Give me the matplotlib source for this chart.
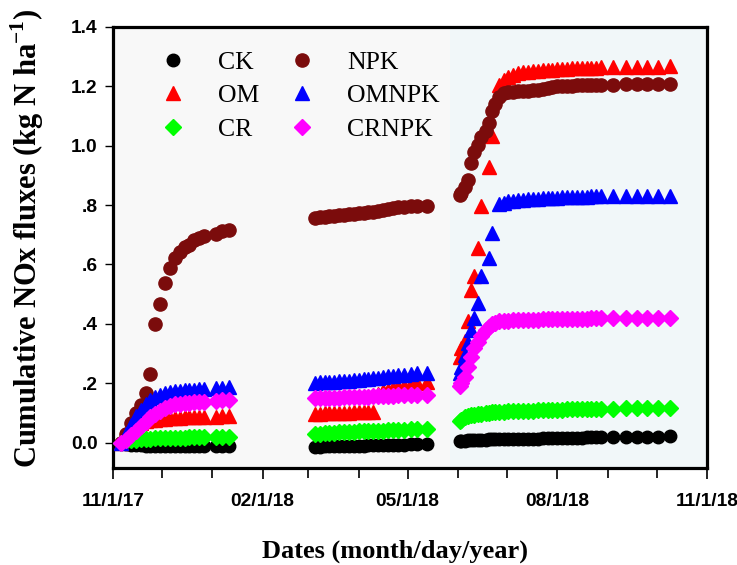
# -*- coding: utf-8 -*-
"""
Cumulative NOx fluxes for six treatments, three sampling periods (Nov 2017 - Oct 2018).
"""
import numpy as np
import pandas as pd
import matplotlib
matplotlib.use("Agg")
import matplotlib.pyplot as plt
import matplotlib.dates as mdates

plt.rcParams["font.family"] = ["Liberation Serif", "DejaVu Serif"]
plt.rcParams["mathtext.fontset"] = "custom"
plt.rcParams["mathtext.rm"] = "Liberation Serif:bold"
plt.rcParams["mathtext.bf"] = "Liberation Serif:bold"

nan = np.nan

# ===== data =====
dates_p1 = ["2017-11-06", "2017-11-09", "2017-11-12", "2017-11-15", "2017-11-18", "2017-11-21",
            "2017-11-24", "2017-11-27", "2017-11-30", "2017-12-03", "2017-12-06", "2017-12-09",
            "2017-12-12", "2017-12-15", "2017-12-18", "2017-12-21", "2017-12-24", "2017-12-27",
            "2018-01-03", "2018-01-07", "2018-01-11"]
dates_p2 = ["2018-03-05", "2018-03-08", "2018-03-11", "2018-03-14", "2018-03-17", "2018-03-20",
            "2018-03-23", "2018-03-26", "2018-03-29", "2018-04-01", "2018-04-04", "2018-04-07",
            "2018-04-10", "2018-04-13", "2018-04-16", "2018-04-19", "2018-04-22", "2018-04-25",
            "2018-04-29", "2018-05-03", "2018-05-07", "2018-05-13"]
dates_p3 = ["2018-06-02", "2018-06-03", "2018-06-05", "2018-06-07", "2018-06-09", "2018-06-11",
            "2018-06-13", "2018-06-15", "2018-06-18", "2018-06-20", "2018-06-22", "2018-06-24",
            "2018-06-26", "2018-06-29", "2018-07-02", "2018-07-05", "2018-07-08", "2018-07-11",
            "2018-07-14", "2018-07-17", "2018-07-20", "2018-07-23", "2018-07-26", "2018-07-29",
            "2018-08-01", "2018-08-04", "2018-08-07", "2018-08-10", "2018-08-13", "2018-08-16",
            "2018-08-19", "2018-08-22", "2018-08-25", "2018-08-28", "2018-09-04", "2018-09-12",
            "2018-09-19", "2018-09-25", "2018-10-02", "2018-10-09"]

ck_p1 = [0.0, -0.003, -0.006, -0.008, -0.009, -0.010, -0.010, -0.011, -0.011, -0.011, -0.012,
         -0.012, -0.012, -0.012, -0.012, -0.012, -0.012, -0.012, -0.011, -0.011, -0.011]
om_p1 = [0.0, 0.030, 0.050, 0.060, 0.068, 0.073, 0.076, 0.078, 0.080, 0.081, 0.082,
         0.083, 0.084, 0.085, 0.085, 0.086, 0.086, 0.087, 0.088, 0.089, 0.090]
cr_p1 = [0.0, 0.005, 0.008, 0.010, 0.012, 0.013, 0.014, 0.015, 0.015, 0.016, 0.016,
         0.017, 0.017, 0.017, 0.018, 0.018, 0.018, 0.019, 0.019, 0.020, 0.020]
npk_p1 = [0.0, 0.030, 0.065, 0.100, 0.128, 0.167, 0.232, 0.400, 0.467, 0.536, 0.589,
          0.622, 0.641, 0.659, 0.667, 0.683, 0.689, 0.695, 0.702, 0.711, 0.717]
omnpk_p1 = [0.0, 0.030, 0.060, 0.090, 0.110, 0.130, 0.145, 0.155, 0.162, 0.167, 0.170,
            0.173, 0.175, 0.177, 0.178, 0.179, 0.180, 0.181, 0.183, 0.185, 0.186]
crnpk_p1 = [0.0, 0.010, 0.025, 0.040, 0.055, 0.070, 0.085, 0.097, 0.108, 0.117, 0.124,
            0.129, 0.132, 0.134, 0.135, 0.136, 0.137, 0.138, 0.141, 0.143, 0.145]

ck_p2 = [-0.013, -0.013, -0.012, -0.012, -0.012, -0.011, -0.011, -0.011, -0.010, -0.010, -0.010,
         -0.009, -0.009, -0.008, -0.008, -0.008, -0.007, -0.007, -0.006, -0.005, -0.004, -0.003]
om_p2 = [0.097, 0.098, 0.099, 0.099, 0.100, 0.100, 0.101, 0.101, 0.102, 0.102, 0.103,
         0.103, 0.104, 0.165, 0.173, 0.178, 0.183, 0.188, 0.192, 0.196, 0.200, 0.206]
cr_p2 = [0.030, 0.031, 0.032, 0.033, 0.034, 0.035, 0.035, 0.036, 0.037, 0.038, 0.038,
         0.039, 0.040, 0.040, 0.041, 0.042, 0.043, 0.043, 0.044, 0.045, 0.046, 0.047]
npk_p2 = [0.756, 0.758, 0.760, 0.762, 0.764, 0.766, 0.768, 0.769, 0.771, 0.772, 0.774,
          0.776, 0.778, 0.780, 0.783, 0.786, 0.789, 0.792, 0.794, 0.795, 0.796, 0.798]
omnpk_p2 = [0.202, 0.203, 0.204, 0.205, 0.206, 0.207, 0.208, 0.209, 0.210, 0.211, 0.213,
            0.215, 0.217, 0.219, 0.221, 0.223, 0.225, 0.227, 0.229, 0.231, 0.233, 0.236]
crnpk_p2 = [0.150, 0.150, 0.151, 0.151, 0.152, 0.152, 0.153, 0.153, 0.154, 0.154, 0.155,
            0.155, 0.156, 0.156, 0.157, 0.157, 0.158, 0.159, 0.159, 0.160, 0.161, 0.162]

ck_p3 = [0.005, 0.006, 0.007, 0.008, 0.008, 0.009, 0.009, 0.010, 0.010, 0.011, 0.011, 0.011,
         0.012, 0.012, 0.012, 0.013, 0.013, 0.013, 0.014, 0.014, 0.014, 0.015, 0.015, 0.015,
         0.016, 0.016, 0.016, 0.017, 0.017, 0.017, 0.018, 0.018, 0.018, 0.019, 0.019, 0.019,
         0.020, 0.020, 0.020, 0.021]
om_p3 = [0.290, 0.320, 0.341, 0.410, 0.515, 0.560, 0.655, 0.797, nan, 0.928, 1.031, nan,
         1.205, 1.221, 1.232, 1.238, 1.244, 1.246, 1.248, 1.250, 1.252, 1.254, 1.255, 1.256,
         1.257, 1.258, 1.259, 1.260, 1.260, 1.261, 1.261, 1.262, 1.262, 1.263, 1.263, 1.264,
         1.265, 1.265, 1.266, 1.267]
cr_p3 = [0.072, 0.078, 0.085, 0.089, 0.092, 0.094, 0.096, 0.098, 0.100, 0.101, 0.102, 0.103,
         0.104, 0.105, 0.106, 0.106, 0.107, 0.107, 0.108, 0.108, 0.109, 0.109, 0.110, 0.110,
         0.111, 0.111, 0.112, 0.112, 0.113, 0.113, 0.114, 0.114, 0.114, 0.115, 0.115, 0.116,
         0.116, 0.117, 0.117, 0.118]
npk_p3 = [0.835, 0.840, 0.862, 0.885, 0.940, 0.980, 1.003, 1.029, 1.050, 1.076, 1.115, 1.140,
          1.162, 1.177, 1.180, 1.182, 1.183, 1.184, 1.185, 1.186, 1.187, 1.190, 1.193, 1.197,
          1.200, 1.201, 1.202, 1.202, 1.203, 1.203, 1.204, 1.204, 1.205, 1.205, 1.205, 1.206,
          1.206, 1.206, 1.207, 1.208]
omnpk_p3 = [0.235, 0.255, 0.295, 0.335, 0.380, 0.420, 0.470, 0.560, nan, 0.622, 0.706, nan,
            0.805, 0.808, 0.812, 0.815, 0.817, 0.818, 0.819, 0.820, 0.821, 0.822, 0.823, 0.824,
            0.825, 0.826, 0.826, 0.827, 0.827, 0.828, 0.828, 0.829, 0.829, 0.830, 0.830, 0.830,
            0.831, 0.831, 0.831, 0.832]
crnpk_p3 = [0.190, 0.200, 0.220, 0.255, 0.290, 0.320, 0.340, 0.360, 0.378, 0.388, 0.398, 0.404,
            0.408, 0.410, 0.411, 0.412, 0.412, 0.413, 0.413, 0.414, 0.414, 0.415, 0.415, 0.416,
            0.416, 0.417, 0.417, 0.417, 0.418, 0.418, 0.418, 0.419, 0.419, 0.419, 0.420, 0.420,
            0.420, 0.421, 0.421, 0.421]

treatments = ["CK", "OM", "CR", "NPK", "OMNPK", "CRNPK"]
series = {
    "CK": (ck_p1, ck_p2, ck_p3),
    "OM": (om_p1, om_p2, om_p3),
    "CR": (cr_p1, cr_p2, cr_p3),
    "NPK": (npk_p1, npk_p2, npk_p3),
    "OMNPK": (omnpk_p1, omnpk_p2, omnpk_p3),
    "CRNPK": (crnpk_p1, crnpk_p2, crnpk_p3),
}
yticks = [0.0, 0.2, 0.4, 0.6, 0.8, 1.0, 1.2, 1.4]
ytick_labels = ["0.0", ".2", ".4", ".6", ".8", "1.0", "1.2", "1.4"]
xticks = ["2017-11-01", "2018-02-01", "2018-05-01", "2018-08-01", "2018-11-01"]
xtick_labels = ["11/1/17", "02/1/18", "05/1/18", "08/1/18", "11/1/18"]

# ===== styles =====
styles = {
    "CK": dict(marker="o", color="black", ms=9, zorder=3),
    "OM": dict(marker="^", color="#ff0000", ms=10, zorder=3),
    "CR": dict(marker="D", color="#00ff00", ms=8, zorder=3),
    "NPK": dict(marker="o", color="#7b0c0c", ms=9.5, zorder=4),
    "OMNPK": dict(marker="^", color="#0000ff", ms=10, zorder=4),
    "CRNPK": dict(marker="D", color="#ff00ff", ms=8, zorder=5),
}

dates = [pd.to_datetime(d) for d in (dates_p1, dates_p2, dates_p3)]

fig = plt.figure(figsize=(7.37, 5.65), dpi=100)
ax = fig.add_axes([0.1533, 0.1717, 0.806, 0.781])
ax.set_facecolor("#f8f8f8")
ax.axvspan(pd.Timestamp("2018-05-27"), pd.Timestamp("2018-11-01"), color="#f1f7f9", zorder=0, lw=0)

for name in treatments:
    st = styles[name]
    for k in range(3):
        ax.plot(dates[k], series[name][k], ls="none", marker=st["marker"], ms=st["ms"],
                color=st["color"], mec=st["color"], zorder=st["zorder"],
                label=name if k == 0 else None)

ax.set_xlim(pd.Timestamp("2017-11-01"), pd.Timestamp("2018-11-01"))
ax.set_ylim(-0.085, 1.4)
ax.set_yticks(yticks)
ax.set_yticklabels(ytick_labels)
ax.set_xticks(pd.to_datetime(xticks))
ax.set_xticklabels(xtick_labels)
ax.xaxis.set_minor_locator(mdates.MonthLocator())

for t in ax.get_xticklabels() + ax.get_yticklabels():
    t.set_family(["Liberation Sans", "DejaVu Sans"])
    t.set_weight("bold")
    t.set_fontsize(13.8)

for sp in ax.spines.values():
    sp.set_linewidth(2.3)
ax.tick_params(axis="x", which="major", direction="out", length=8, width=1.2, pad=10)
ax.tick_params(axis="x", which="minor", direction="out", length=7, width=1.2)
ax.tick_params(axis="y", which="major", direction="out", length=6, width=1.0, pad=5)

ax.set_xlabel("Dates (month/day/year)", fontsize=19, fontweight="bold", va="top")
ax.xaxis.set_label_coords(0.474, -0.162)
ax.set_ylabel(r"Cumulative NOx fluxes (kg N ha$^{\mathbf{-1}}$)", fontsize=22,
              fontweight="bold")
ax.yaxis.set_label_coords(-0.112, 0.52)

ax.legend(ncol=2, loc="upper left", bbox_to_anchor=(0.057, 0.946), frameon=False,
          fontsize=18.5, handletextpad=0.75, columnspacing=0.7, labelspacing=0.42,
          borderaxespad=0.0, borderpad=0.0)

fig.savefig("out.png", dpi=100)
